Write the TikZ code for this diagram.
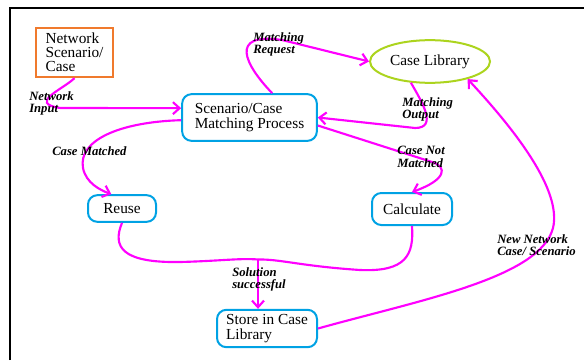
\documentclass[tikz,border=0pt]{standalone}
\usepackage{fontspec}
\setmainfont{Liberation Serif}
\usetikzlibrary{shapes.geometric,arrows.meta}

\definecolor{flowpink}{RGB}{255,0,255}
\definecolor{boxblue}{RGB}{0,162,228}
\definecolor{boxorange}{RGB}{240,122,45}
\definecolor{libgreen}{RGB}{172,212,30}

\begin{document}
\begin{tikzpicture}[x=0.75pt,y=0.75pt,yscale=-1,xscale=1,
  procbox/.style={draw=boxblue,line width=1.5pt,rounded corners=7pt,align=left,inner sep=0pt,font=\fontsize{11.5}{11}\selectfont},
  flow/.style={draw=flowpink,line width=1.6pt,-{Straight Barb[length=5pt,width=9pt,line width=1.6pt]}},
  link/.style={draw=flowpink,line width=1.6pt},
  lbl/.style={anchor=north west,inner sep=0.75pt,align=left,font=\fontsize{9.5}{9.5}\selectfont\bfseries\itshape}]
\useasboundingbox (0,0) rectangle (584,360);

%Frame
\draw [line width=1.5pt] (10,360) -- (10,8) -- (584,8) ;

%Shape: Rectangle [input]
\node [draw=boxorange,line width=1.5pt,align=left,inner sep=0pt,minimum width=57.75pt,minimum height=37pt,font=\fontsize{11.5}{10.5}\selectfont] (netcase) at (74.5,52.5) {Network\\Scenario/\\Case};
%Shape: Rounded Rectangle [matching]
\node [procbox,minimum width=101pt,minimum height=35pt] (match) at (249.5,117.5) {Scenario/Case\\Matching Process};
%Shape: Ellipse [library]
\node [draw=libgreen,line width=1.5pt,ellipse,minimum width=90pt,minimum height=32pt,inner sep=0pt,font=\fontsize{11.5}{11}\selectfont] (caselib) at (430,61.5) {Case Library};
%Shape: Rounded Rectangle [reuse]
\node [procbox,minimum width=51pt,minimum height=20pt] (reuse) at (122,208.5) {Reuse};
%Shape: Rounded Rectangle [calculate]
\node [procbox,minimum width=60pt,minimum height=24pt] (calc) at (412,209) {Calculate};
%Shape: Rounded Rectangle [store]
\node [procbox,minimum width=75pt,minimum height=28pt] (store) at (267,328.5) {Store in Case\\Library};

\coordinate (merge) at (258,259.5);

%Curves (yshift is flipped by yscale=-1)
\draw [flow] (netcase.south) .. controls (62,90) and (28,103) .. (60,108) -- ([yshift=-7pt]match.west) ;
\draw [flow] ([xshift=17pt]match.north) .. controls (245,65) and (228,32) .. (282,40) -- (caselib.west) ;
\draw [flow] (caselib.228) .. controls (422,102) and (438,128) .. (415,128) -- (match.east) ;
\draw [flow] ([yshift=6pt]match.east) -- (432,162) .. controls (448,167) and (446,180) .. (calc.north) ;
\draw [flow] ([yshift=2pt]match.west) .. controls (120,122) and (78,140) .. (83,168) .. controls (86,183) and (100,190) .. ([xshift=-8pt]reuse.north) ;
\draw [link] (reuse.south) .. controls (112,247) and (122,263) .. (180,262) .. controls (220,261) and (240,258) .. (merge) ;
\draw [link] (calc.south) .. controls (414,255) and (406,272) .. (360,270) .. controls (300,266) and (280,259) .. (merge) ;
\draw [flow] (merge) -- (merge |- store.north) ;
\draw [flow] (store.east) .. controls (420,300) and (540,278) .. (553,228) .. controls (562,190) and (515,130) .. (caselib.335) ;

% Text Node
\node [lbl] (lblinput) at (28,90) {Network\\Input};
% Text Node
\node [lbl] (lblrequest) at (252,31) {Matching\\Request};
% Text Node
\node [lbl] (lbloutput) at (401,96) {Matching\\Output};
% Text Node
\node [lbl] (lblnot) at (396,145) {Case Not\\Matched};
% Text Node
\node [lbl] (lblmatched) at (51,145) {Case Matched};
% Text Node
\node [lbl] (lblsolution) at (231,266) {Solution\\successful};
% Text Node
\node [lbl] (lblnew) at (496,233) {New Network\\Case/ Scenario};

\end{tikzpicture}
\end{document}
